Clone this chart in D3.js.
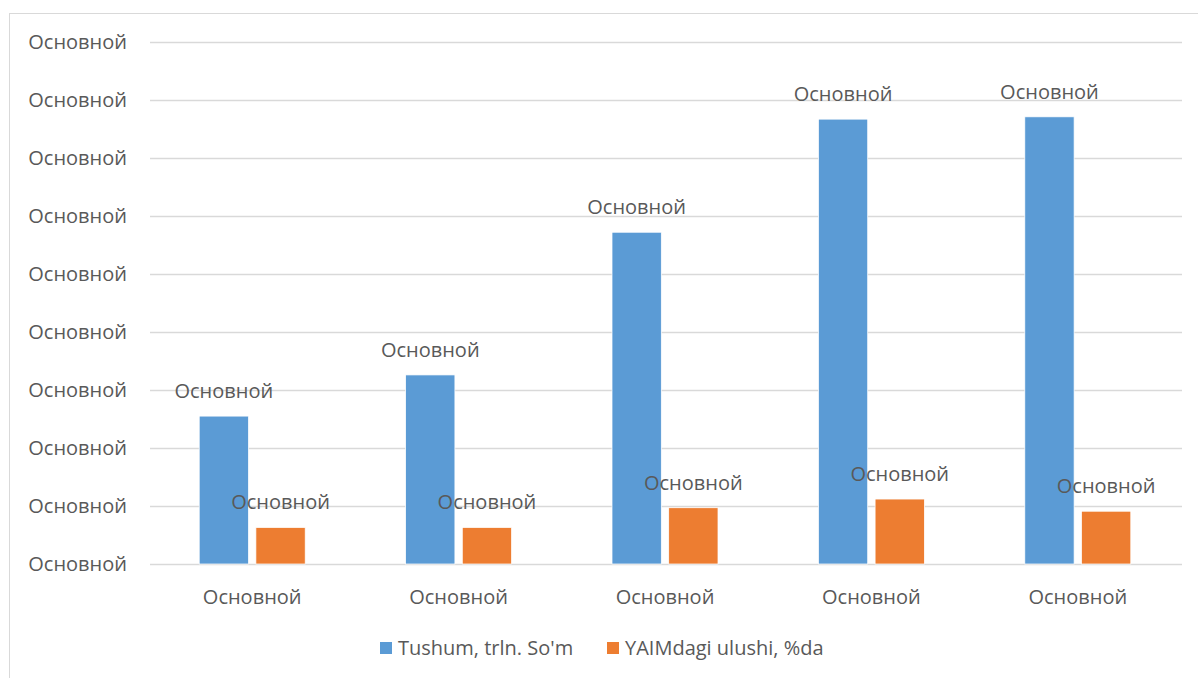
<!DOCTYPE html>
<html>
<head>
<meta charset="utf-8">
<script src="https://cdn.jsdelivr.net/npm/d3@7"></script>
<style>
  body { margin: 0; background: #fff; }
  text { font-family: "Open Sans", "Noto Sans", sans-serif; fill: #595959; }
</style>
</head>
<body>
<script>
const width = 1198;
const height = 678;

const categories = ['c1', 'c2', 'c3', 'c4', 'c5'];
const categoryLabels = ['Основной', 'Основной', 'Основной', 'Основной', 'Основной'];
const tushum = [2.55, 3.26, 5.72, 7.67, 7.71];
const ulushi = [0.63, 0.63, 0.97, 1.12, 0.91];
const seriesNames = ["Tushum, trln. So'm", 'YAIMdagi ulushi, %da'];
const seriesColors = ['#5B9BD5', '#ED7D31'];
const yTicks = [0, 1, 2, 3, 4, 5, 6, 7, 8, 9];
const yTickLabel = 'Основной';
const dataLabel = 'Основной';

const fontSize = 20;
const margin = { top: 42, right: 16, bottom: 114, left: 150 };

const svg = d3.select('body')
              .append('svg')
              .attr('width', width)
              .attr('height', height);

// chart frame
svg.append('rect')
   .attr('x', 9.5).attr('y', 13.5)
   .attr('width', width + 10).attr('height', height + 10)
   .attr('fill', 'none')
   .attr('stroke', '#d9d9d9');

const x = d3.scaleBand()
            .domain(categories)
            .range([margin.left, width - margin.right]);

const inner = d3.scaleBand()
                .domain([0, 1])
                .range([0, 106])
                .paddingInner(0.13);

const y = d3.scaleLinear()
            .domain([0, 9])
            .range([height - margin.bottom, margin.top]);

// gridlines
svg.append('g')
   .selectAll('line')
   .data(yTicks)
   .enter()
   .append('line')
   .attr('x1', margin.left)
   .attr('x2', width - margin.right)
   .attr('y1', d => Math.round(y(d)) + 0.5)
   .attr('y2', d => Math.round(y(d)) + 0.5)
   .attr('stroke', '#d9d9d9')
   .attr('stroke-width', 1.5);

// y tick labels
svg.append('g')
   .selectAll('text')
   .data(yTicks)
   .enter()
   .append('text')
   .attr('x', 127)
   .attr('y', d => y(d))
   .attr('dy', '0.35em')
   .attr('text-anchor', 'end')
   .attr('font-size', fontSize)
   .text(yTickLabel);

const series = [tushum, ulushi];
const bars = [];
series.forEach((vals, s) => {
  vals.forEach((v, i) => bars.push({ cat: categories[i], s: s, v: v }));
});

const groupOffset = (x.bandwidth() - 106) / 2 - 1;

svg.append('g')
   .selectAll('rect')
   .data(bars)
   .enter()
   .append('rect')
   .attr('x', d => x(d.cat) + groupOffset + inner(d.s))
   .attr('y', d => y(d.v))
   .attr('width', inner.bandwidth())
   .attr('height', d => y(0) - y(d.v))
   .attr('fill', d => seriesColors[d.s])
   .attr('stroke', '#fff')
   .attr('stroke-width', 0.75);

// data labels
svg.append('g')
   .selectAll('text')
   .data(bars)
   .enter()
   .append('text')
   .attr('x', d => x(d.cat) + groupOffset + inner(d.s) + inner.bandwidth() / 2)
   .attr('y', d => y(d.v) - 25)
   .attr('dy', '0.35em')
   .attr('text-anchor', 'middle')
   .attr('font-size', fontSize)
   .text(dataLabel);

// category labels
svg.append('g')
   .selectAll('text')
   .data(categories)
   .enter()
   .append('text')
   .attr('x', d => x(d) + x.bandwidth() / 2 - 1)
   .attr('y', 597)
   .attr('dy', '0.35em')
   .attr('text-anchor', 'middle')
   .attr('font-size', fontSize)
   .text((d, i) => categoryLabels[i]);

// legend
const legendX = [380, 607];
const legend = svg.append('g')
                  .selectAll('g')
                  .data(seriesNames)
                  .enter()
                  .append('g')
                  .attr('transform', (d, i) => `translate(${legendX[i]}, 648)`);
legend.append('rect')
      .attr('x', 0).attr('y', -6)
      .attr('width', 12).attr('height', 12)
      .attr('fill', (d, i) => seriesColors[i]);
legend.append('text')
      .attr('x', 18)
      .attr('y', 0)
      .attr('dy', '0.35em')
      .attr('font-size', fontSize)
      .text(d => d);
</script>
</body>
</html>
